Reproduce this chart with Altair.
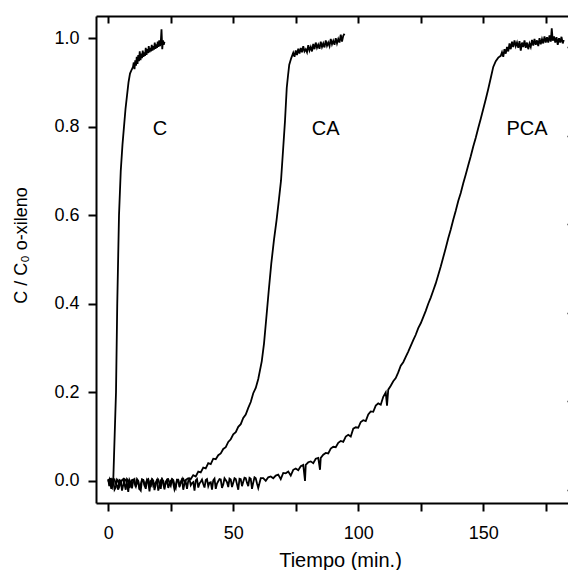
import altair as alt
import pandas as pd

# ---- data (t in min, C/C0) ----
serie_C = [
    (0.0, 0.004), (0.4, -0.012), (0.8, 0.006), (1.2, -0.018), (1.6, 0.002), (2.0, 0.0),
    (3.1, 0.2), (3.6, 0.4), (4.3, 0.6), (5.0, 0.7), (5.7, 0.76), (6.3, 0.8), (6.9, 0.84),
    (7.5, 0.87), (8.1, 0.9), (8.7, 0.92), (9.3, 0.928), (9.9, 0.935),
    (10.2, 0.945), (10.5, 0.93), (10.8, 0.95), (11.1, 0.938), (11.4, 0.958), (11.7, 0.942),
    (12.0, 0.962), (12.3, 0.948), (12.6, 0.97), (12.9, 0.95), (13.2, 0.965), (13.5, 0.955),
    (13.8, 0.972), (14.1, 0.958), (14.4, 0.968), (14.7, 0.96), (15.0, 0.978), (15.3, 0.962),
    (15.6, 0.975), (15.9, 0.966), (16.2, 0.982), (16.5, 0.968), (16.8, 0.978), (17.1, 0.97),
    (17.4, 0.985), (17.7, 0.972), (18.0, 0.982), (18.3, 0.974), (18.6, 0.99), (18.9, 0.976),
    (19.2, 0.986), (19.5, 0.978), (19.8, 0.992), (20.1, 0.98), (20.4, 0.995), (20.7, 0.982),
    (21.0, 0.99), (21.3, 1.02), (21.6, 0.975), (21.9, 0.995), (22.2, 0.985), (22.5, 0.992),
]

serie_CA = [
    (0, 0.003), (1, -0.01), (2, 0.002), (3, -0.015), (4, 0.0), (5, -0.006), (6, 0.004),
    (7, -0.02), (8, 0.001), (9, -0.008), (10, 0.003), (11, -0.012), (12, 0.0), (13, -0.022),
    (14, 0.002), (15, -0.005), (16, 0.004), (17, -0.014), (18, 0.001), (19, -0.009),
    (20, 0.003), (21, -0.018), (22, 0.0), (23, -0.006), (24, 0.004), (25, -0.011),
    (26, 0.002), (27, -0.016), (28, 0.003), (29, -0.004), (30, 0.005), (31, 0.002),
    (0.5, -0.006), (1.5, 0.004), (2.5, -0.02), (3.5, 0.003), (4.5, -0.012), (5.5, 0.002),
    (6.5, -0.008), (7.5, 0.004), (8.5, -0.016), (9.5, 0.002), (10.5, -0.005), (11.5, 0.004),
    (12.5, -0.018), (13.5, 0.003), (14.5, -0.01), (15.5, 0.002), (16.5, -0.006), (17.5, 0.004),
    (18.5, -0.021), (19.5, 0.002), (20.5, -0.007), (21.5, 0.004), (22.5, -0.013), (23.5, 0.003),
    (24.5, -0.005), (25.5, 0.004), (26.5, -0.009), (27.5, 0.003), (28.5, -0.014), (29.5, 0.004),
    (30.5, -0.003),
    (32, 0.006), (33, 0.004), (34, 0.013), (35, 0.01), (36, 0.021), (37, 0.019), (38, 0.03),
    (39, 0.028), (40, 0.04), (41, 0.038), (42, 0.05), (43, 0.049), (44, 0.058), (45, 0.062),
    (46, 0.072), (47, 0.076), (48, 0.088), (49, 0.094), (50, 0.105), (51, 0.11), (52, 0.122),
    (53, 0.128), (54, 0.142), (55, 0.15), (56, 0.165), (57, 0.178), (58, 0.198), (59, 0.21),
    (60, 0.23), (61.4, 0.27), (62.3, 0.31), (63.1, 0.36), (64.2, 0.43), (65.2, 0.49),
    (66.3, 0.545), (67.3, 0.588), (68.2, 0.632), (69.1, 0.678), (69.9, 0.745), (70.7, 0.813),
    (71.4, 0.888), (71.9, 0.915), (72.4, 0.94), (73.2, 0.955), (74.0, 0.967),
    (74.5, 0.958), (75.0, 0.972), (75.5, 0.962), (76.0, 0.976), (76.5, 0.965), (77.0, 0.978),
    (77.5, 0.968), (78.0, 0.982), (78.5, 0.97), (79.0, 0.975), (79.5, 0.968), (80.0, 0.984),
    (80.5, 0.972), (81.0, 0.98), (81.5, 0.97), (82.0, 0.987), (82.5, 0.975), (83.0, 0.99),
    (83.5, 0.978), (84.0, 0.985), (84.5, 0.976), (85.0, 0.992), (85.5, 0.98), (86.0, 0.988),
    (86.5, 0.979), (87.0, 0.995), (87.5, 0.983), (88.0, 0.99), (88.5, 0.982), (89.0, 0.998),
    (89.5, 0.986), (90.0, 0.994), (90.5, 0.985), (91.0, 1.0), (91.5, 0.988), (92.0, 0.998),
    (92.5, 0.99), (93.0, 1.008), (93.5, 0.992), (94.0, 1.005), (94.5, 1.01),
]

serie_PCA = [
    (0, -0.002), (1, -0.012), (2, 0.001), (3, -0.006), (4, -0.02), (5, 0.0), (6, -0.009),
    (7, 0.002), (8, -0.025), (9, -0.004), (10, 0.001), (11, -0.014), (12, -0.002), (13, -0.008),
    (14, 0.002), (15, -0.018), (16, -0.003), (17, 0.0), (18, -0.011), (19, -0.004),
    (20, -0.022), (21, 0.001), (22, -0.007), (23, -0.002), (24, -0.016), (25, 0.0),
    (26, -0.006), (27, -0.012), (28, 0.001), (29, -0.004), (30, -0.02), (31, -0.002),
    (32, 0.0), (33, -0.01), (34, -0.003), (35, 0.001), (36, -0.015), (37, -0.002),
    (38, -0.007), (39, 0.002), (40, -0.012), (41, -0.003), (42, 0.001), (43, -0.018),
    (44, -0.001), (45, 0.003), (46, -0.008), (47, 0.002), (48, -0.014), (49, 0.003),
    (50, -0.004), (51, 0.004), (52, -0.02), (53, 0.004), (54, -0.002), (55, 0.006),
    (56, -0.012), (57, 0.005), (58, -0.004), (59, 0.006), (60, -0.016), (61, 0.006),
    (0.5, 0.004), (1.5, -0.016), (2.5, 0.003), (3.5, -0.01), (4.5, 0.002), (5.5, -0.022),
    (6.5, 0.004), (7.5, -0.006), (8.5, 0.002), (9.5, -0.017), (10.5, 0.004), (11.5, -0.005),
    (12.5, -0.02), (13.5, 0.003), (14.5, -0.009), (15.5, 0.002), (16.5, -0.024), (17.5, 0.003),
    (18.5, -0.006), (19.5, 0.002), (20.5, -0.012), (21.5, 0.004), (22.5, -0.019), (23.5, 0.002),
    (24.5, -0.007), (25.5, 0.003), (26.5, -0.02), (27.5, 0.002), (28.5, -0.01), (29.5, 0.003),
    (30.5, -0.006), (31.5, -0.018), (32.5, 0.004), (33.5, -0.005), (34.5, -0.022), (35.5, 0.004),
    (36.5, -0.006), (37.5, 0.003), (38.5, -0.015), (39.5, 0.004), (40.5, -0.004), (41.5, -0.02),
    (42.5, 0.005), (43.5, -0.006), (44.5, 0.004), (45.5, -0.016), (46.5, 0.006), (47.5, -0.003),
    (48.5, 0.005), (49.5, -0.014), (50.5, 0.006), (51.5, -0.008), (52.5, 0.005), (53.5, -0.012),
    (54.5, 0.007), (55.5, -0.004), (56.5, 0.007), (57.5, -0.018), (58.5, 0.008), (59.5, -0.006),
    (62, 0.006), (63, 0.0), (64, 0.008), (65, 0.01), (66, 0.006), (67, 0.012),
    (68, 0.014), (69, 0.004), (70, 0.018), (71, 0.017), (72, 0.021), (73, 0.012), (74, 0.025),
    (75, 0.028), (76, 0.024), (77, 0.033), (78, 0.036), (78.7, 0.0), (79, 0.036), (80, 0.042),
    (81, 0.044), (82, 0.04), (83, 0.05), (84, 0.052), (84.7, 0.025), (85, 0.052), (86, 0.059),
    (87, 0.063), (88, 0.062), (89, 0.073), (90, 0.077), (91, 0.076), (92, 0.086), (93, 0.09),
    (94, 0.088), (95, 0.1), (96, 0.104), (97, 0.1), (98, 0.118), (99, 0.121), (100, 0.12),
    (101, 0.133), (102, 0.137), (103, 0.135), (104, 0.15), (105, 0.157), (106, 0.156),
    (107, 0.17), (108, 0.175), (109, 0.172), (110, 0.19), (111, 0.2), (111.5, 0.17),
    (112, 0.206), (113, 0.215), (114, 0.225), (115, 0.232), (116, 0.245), (117, 0.26),
    (118, 0.268), (119, 0.28), (120, 0.292), (121, 0.305), (122, 0.318), (123, 0.33),
    (124, 0.345), (125, 0.356), (126, 0.37), (127, 0.384), (128, 0.4), (129, 0.414),
    (130, 0.43), (131, 0.446), (132, 0.465), (133, 0.484), (134, 0.505), (135, 0.526),
    (136, 0.548), (137, 0.568), (138, 0.59), (139, 0.61), (140, 0.632), (141, 0.65),
    (142, 0.672), (143, 0.692), (144, 0.713), (145, 0.733), (146, 0.755), (147, 0.775),
    (148, 0.797), (149, 0.818), (150, 0.84), (151, 0.862), (152, 0.885), (153, 0.91),
    (154, 0.935), (155, 0.948), (156, 0.956), (157, 0.96),
    (157.5, 0.968), (158, 0.958), (158.5, 0.975), (159, 0.965), (159.5, 0.98), (160, 0.97),
    (160.5, 0.988), (161, 0.975), (161.5, 0.992), (162, 0.98), (162.5, 0.995), (163, 0.982),
    (163.5, 0.99), (164, 0.978), (164.5, 0.993), (165, 0.972), (165.5, 0.99), (166, 0.98),
    (166.5, 0.995), (167, 0.978), (167.5, 0.99), (168, 0.975), (168.5, 0.988), (169, 0.98),
    (169.5, 0.996), (170, 0.983), (170.5, 0.998), (171, 0.985), (171.5, 0.995), (172, 0.982),
    (172.5, 1.0), (173, 0.986), (173.5, 0.998), (174, 0.988), (174.5, 1.004), (175, 0.99),
    (175.5, 1.002), (176, 0.99), (176.5, 1.006), (177, 0.992), (177.4, 1.022), (177.8, 0.994),
    (178.3, 1.004), (178.8, 0.99), (179.3, 1.002), (179.8, 0.985), (180.3, 1.0), (180.8, 0.99),
    (181.3, 1.003), (181.8, 0.988), (182.2, 0.996),
]

etiquetas = ["C", "CA", "PCA"]
etiqueta_t = [20.7, 87.0, 167.5]
etiqueta_c = [0.795, 0.795, 0.795]

x_ticks = [0, 25, 50, 75, 100, 125, 150, 175]
y_ticks = [0.0, 0.2, 0.4, 0.6, 0.8, 1.0]
y_ticks_right = [-0.02, 0.18, 0.38, 0.58, 0.78, 0.98]

rows = []
for name, serie in (("C", serie_C), ("CA", serie_CA), ("PCA", serie_PCA)):
    for t, c in serie:
        rows.append({"serie": name, "t": t, "c": c})
df = pd.DataFrame(rows)
df_lab = pd.DataFrame({"lab": etiquetas, "t": etiqueta_t, "c": etiqueta_c})

FONT = "Liberation Sans, Arial, Helvetica, sans-serif"
W, H = 472, 487
xscale = alt.Scale(domain=[-4.9, 183.9], nice=False, zero=False)
yscale = alt.Scale(domain=[-0.05, 1.05], nice=False, zero=False)

x_main = alt.Axis(
    values=x_ticks, labelExpr="datum.value % 50 === 0 ? datum.label : ''",
    orient="bottom", grid=False, domainColor="black", domainWidth=2,
    tickColor="black", tickWidth=2, tickSize=8, labelFont=FONT, labelFontSize=18,
    labelColor="black", labelPadding=13, labelFlush=False, labelOverlap=False,
    title="Tiempo (min.)", titleFont=FONT, titleFontSize=20, titleFontWeight="normal",
    titleColor="black", titleX=244, titleY=63, titleBaseline="alphabetic",
)
y_main = alt.Axis(
    values=y_ticks, format=".1f", orient="left", grid=False, domainColor="black",
    domainWidth=2, tickColor="black", tickWidth=2, tickSize=8, labelFont=FONT,
    labelFontSize=18, labelColor="black", labelPadding=9, labelFlush=False,
    labelOverlap=False, title="C / C₀ o-xileno", titleFont=FONT, titleFontSize=18,
    titleFontWeight="normal", titleColor="black", titleX=-66, titleY=229,
)
x_top = alt.Axis(
    values=x_ticks, orient="bottom", offset=-H, labels=False, grid=False,
    domainColor="black", domainWidth=2, tickColor="black", tickWidth=2, tickSize=7,
    title=None,
)
y_right = alt.Axis(
    values=y_ticks_right, orient="left", offset=-(W + 6), labels=False, grid=False,
    domain=False, tickColor="black", tickWidth=1.5, tickSize=7, title=None,
)

lines = alt.Chart(df).mark_line(color="black", strokeWidth=1.8).encode(
    x=alt.X("t:Q", scale=xscale, axis=x_main),
    y=alt.Y("c:Q", scale=yscale, axis=y_main),
    detail="serie:N",
    order="t:Q",
)

labels = alt.Chart(df_lab).mark_text(
    font=FONT, fontSize=20, color="black", baseline="middle", align="center"
).encode(
    x=alt.X("t:Q", scale=xscale, axis=x_top),
    y=alt.Y("c:Q", scale=yscale, axis=y_right),
    text="lab:N",
)

chart = (
    alt.layer(lines, labels)
    .resolve_axis(x="independent", y="independent")
    .properties(
        width=W, height=H,
        autosize=alt.AutoSizeParams(type="none"),
        padding={"left": 88, "top": 8, "right": 0, "bottom": 67},
    )
    .configure_view(stroke=None)
)

chart.save("out.html", embed_options={"renderer": "svg", "actions": False})
